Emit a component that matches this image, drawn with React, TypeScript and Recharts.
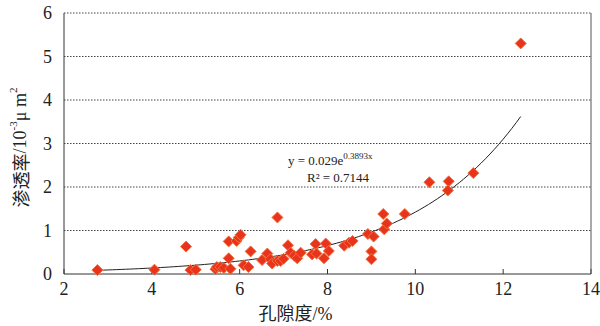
import React from 'react';
import {
    ScatterChart,
    Scatter,
    XAxis,
    YAxis,
    ReferenceDot,
} from 'recharts';

// porosity (%) and permeability (10^-3 μm²) of the samples
const porosity = [
    2.76, 4.06, 4.78, 4.88, 5.0, 5.45, 5.48, 5.56, 5.64, 5.75, 5.75, 5.79, 5.93, 5.98, 6.02,
    6.09, 6.2, 6.25, 6.51, 6.63, 6.7, 6.74, 6.86, 6.86, 6.93, 7.0, 7.1, 7.16, 7.24, 7.31,
    7.39, 7.65, 7.73, 7.75, 7.92, 7.96, 8.03, 8.38, 8.49, 8.57, 8.92, 9.05, 9.0, 9.0, 9.27,
    9.29, 9.35, 9.76, 10.32, 10.76, 10.74, 11.32, 12.4,
];
const permeability = [
    0.09, 0.1, 0.63, 0.09, 0.1, 0.11, 0.16, 0.16, 0.14, 0.75, 0.36, 0.12, 0.76, 0.84, 0.9,
    0.2, 0.16, 0.52, 0.32, 0.47, 0.34, 0.24, 1.3, 0.3, 0.3, 0.35, 0.66, 0.49, 0.42, 0.36,
    0.49, 0.45, 0.69, 0.47, 0.36, 0.7, 0.53, 0.65, 0.72, 0.76, 0.92, 0.86, 0.52, 0.34, 1.38,
    1.03, 1.16, 1.38, 2.11, 2.13, 1.92, 2.32, 5.3,
];

// fitted trend printed on the chart: y = 0.029e^(0.3893x)
const fitA = 0.029;
const fitB = 0.3893;
const fitStart = 2.8;
const fitEnd = 12.4;

const xTicks = [2, 4, 6, 8, 10, 12, 14];
const yTicks = [0, 1, 2, 3, 4, 5, 6];
const gridLevels = [1, 2, 3, 4, 5, 6];
const xMin = 2;
const xMax = 14;
const yMax = 6;

const samples = porosity.map((x, i) => ({ x, y: permeability[i] }));

const trend: { x: number; y: number }[] = [];
for (let x = fitStart; x <= fitEnd + 1e-9; x += 0.1) {
    trend.push({ x, y: fitA * Math.exp(fitB * x) });
}

// dotted horizontal grid lines and the right frame, drawn through the axes' scales
const gridRows = gridLevels.map((v) => [
    { x: xMin, y: v },
    { x: xMax, y: v },
]);
const rightFrame = [
    { x: xMax, y: 0 },
    { x: xMax, y: yMax },
];

const SERIF = '"Liberation Serif", "Times New Roman", serif';
const CJK = '"Noto Sans CJK SC", sans-serif';

const Diamond = (props: any) => {
    const { cx, cy } = props;
    const r = 5.5;
    return (
        <polygon
            points={`${cx},${cy - r} ${cx + r},${cy} ${cx},${cy + r} ${cx - r},${cy}`}
            fill="#e8341c"
            stroke="#f3703e"
            strokeWidth={1}
        />
    );
};

const NoDot = () => <g />;

const XTick = (props: any) => {
    const { x, y, payload } = props;
    return (
        <text x={x} y={y + 24} textAnchor="middle" fontFamily={SERIF} fontSize={18} fill="#222">
            {payload.value}
        </text>
    );
};

const YTick = (props: any) => {
    const { x, y, payload } = props;
    return (
        <text x={x} y={y + 6} textAnchor="end" fontFamily={SERIF} fontSize={18} fill="#222">
            {payload.value}
        </text>
    );
};

const YTitle = (props: any) => {
    const { viewBox } = props;
    const cy = viewBox.y + viewBox.height / 2 + 4;
    const x = 20;
    return (
        <text
            transform={`translate(${x},${cy}) rotate(-90)`}
            textAnchor="middle"
            dominantBaseline="central"
            fontSize={18}
            fill="#222"
        >
            <tspan fontFamily={CJK}>渗透率</tspan>
            <tspan fontFamily={SERIF}>/10</tspan>
            <tspan fontFamily={SERIF} fontSize={11} dy={-7}>-3</tspan>
            <tspan fontFamily={SERIF} dy={7}>μ m</tspan>
            <tspan fontFamily={SERIF} fontSize={11} dy={-7}>2</tspan>
        </text>
    );
};

const XTitle = (props: any) => {
    const { viewBox } = props;
    const cx = viewBox.x + viewBox.width / 2 - 32;
    return (
        <text x={cx} y={320} textAnchor="middle" fontSize={18} fill="#222">
            <tspan fontFamily={CJK}>孔隙度</tspan>
            <tspan fontFamily={SERIF}>/%</tspan>
        </text>
    );
};

const FitNote = (props: any) => {
    const { viewBox } = props;
    const x = viewBox.x;
    const y = viewBox.y;
    return (
        <g fontFamily={SERIF} fill="#222">
            <text x={x} y={y} fontSize={13}>
                y = 0.029e
                <tspan fontSize={9} dy={-6}>0.3893x</tspan>
            </text>
            <text x={x + 19} y={y + 17} fontSize={13}>
                R² = 0.7144
            </text>
        </g>
    );
};

export default function App() {
    return (
        <div style={{ position: 'absolute', left: 0, top: 0, background: '#fff' }}>
            <ScatterChart
                width={600}
                height={326}
                margin={{ top: 13, right: 9, bottom: 0, left: 0 }}
            >
                <XAxis
                    type="number"
                    dataKey="x"
                    domain={[xMin, xMax]}
                    ticks={xTicks}
                    height={52}
                    stroke="#333"
                    tickSize={-5}
                    tick={<XTick />}
                    label={{ content: <XTitle /> }}
                />
                <YAxis
                    type="number"
                    dataKey="y"
                    domain={[0, yMax]}
                    ticks={yTicks}
                    width={64}
                    stroke="#333"
                    tickLine={false}
                    tickSize={10}
                    tick={<YTick />}
                    label={{ content: <YTitle /> }}
                />
                {gridRows.map((row, i) => (
                    <Scatter
                        key={`grid-${i}`}
                        data={row}
                        line={{ stroke: '#444', strokeWidth: 1, strokeDasharray: '1.5 1.5' }}
                        lineType="joint"
                        shape={<NoDot />}
                        isAnimationActive={false}
                    />
                ))}
                <Scatter
                    data={rightFrame}
                    line={{ stroke: '#555', strokeWidth: 1 }}
                    lineType="joint"
                    shape={<NoDot />}
                    isAnimationActive={false}
                />
                <Scatter
                    data={trend}
                    line={{ stroke: '#222', strokeWidth: 1 }}
                    lineType="joint"
                    shape={<NoDot />}
                    isAnimationActive={false}
                />
                <Scatter data={samples} shape={<Diamond />} isAnimationActive={false} />
                <ReferenceDot
                    x={7.1}
                    y={2.5}
                    r={0}
                    stroke="none"
                    fill="none"
                    label={{ content: <FitNote /> }}
                />
            </ScatterChart>
        </div>
    );
}
